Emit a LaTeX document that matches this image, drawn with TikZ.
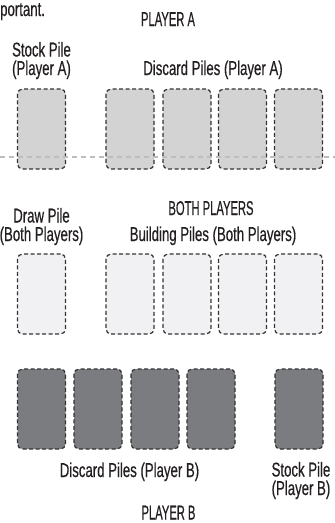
\documentclass[tikz,border=0pt]{standalone}
\usepackage{fontspec}
\setmainfont[FakeStretch=0.66,FakeBold=0.5]{Liberation Sans}
\newfontfamily\capsfont[FakeStretch=0.56,FakeBold=0.5]{Liberation Sans}
\definecolor{fillA}{HTML}{D3D3D4}
\definecolor{fillM}{HTML}{F1F1F3}
\definecolor{fillB}{HTML}{7B7C7F}
\definecolor{cardline}{HTML}{333333}
\definecolor{divc}{HTML}{BDBDBD}
\definecolor{textc}{HTML}{231F20}
\begin{document}
\begin{tikzpicture}[x=1pt,y=-1pt,
  card/.style={draw=cardline, line width=1.2pt, dash pattern=on 4pt off 2.5pt,
    rounded corners=5pt, minimum width=48pt, minimum height=80pt, inner sep=0pt},
  cardA/.style={card, fill=fillA},
  cardM/.style={card, fill=fillM},
  cardB/.style={card, fill=fillB},
  lbl/.style={font=\fontsize{20}{18.5}\selectfont, text=textc, align=center,
    inner sep=0pt, anchor=base},
  head/.style={lbl, font=\capsfont\fontsize{20}{18.5}\selectfont},
  divider/.style={draw=divc, line width=2pt, dash pattern=on 5pt off 4pt}]
\useasboundingbox (0,0) rectangle (335,523);

% intro fragment
\node[lbl, anchor=base west] (intro) at (0,16) {portant.};

% Player A
\node[head] (playerA) at (168,26) {PLAYER A};
\node[lbl] (stockAl) at (41.5,75) {Stock Pile\\(Player A)};
\node[lbl] (discAl) at (213,75) {Discard Piles (Player A)};
\node[cardA] (stockA) at (41.5,129) {};
\node[cardA] (discA1) at (130,129) {};
\node[cardA] (discA2) at (187,129) {};
\node[cardA] (discA3) at (242.5,129) {};
\node[cardA] (discA4) at (298.5,129) {};

% divider
\coordinate (divL) at (0,157);
\coordinate (divR) at (335,157);
\draw[divider] (divL) -- (divR);

% Both players
\node[head] (both) at (211,215) {BOTH PLAYERS};
\node[lbl] (drawl) at (41.5,241) {Draw Pile\\(Both Players)};
\node[lbl] (buildl) at (213,241) {Building Piles (Both Players)};
\node[cardM] (draw) at (41.5,294) {};
\node[cardM] (build1) at (130,294) {};
\node[cardM] (build2) at (187,294) {};
\node[cardM] (build3) at (242.5,294) {};
\node[cardM] (build4) at (298.5,294) {};

% Player B
\node[cardB] (discB1) at (41.5,409) {};
\node[cardB] (discB2) at (98,409) {};
\node[cardB] (discB3) at (155,409) {};
\node[cardB] (discB4) at (211,409) {};
\node[cardB] (stockB) at (299,409) {};
\node[lbl] (discBl) at (129.5,477) {Discard Piles (Player B)};
\node[lbl] (stockBl) at (301,495) {Stock Pile\\(Player B)};
\node[head] (playerB) at (168.5,519.5) {PLAYER B};
\end{tikzpicture}
\end{document}
